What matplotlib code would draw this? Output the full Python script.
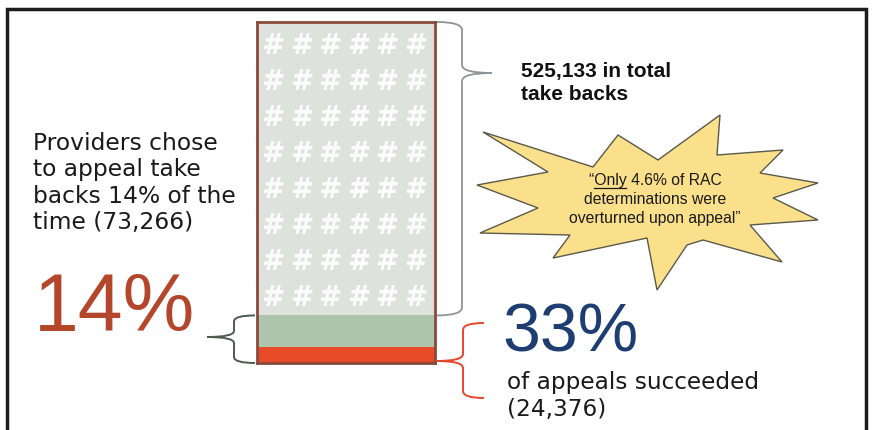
import numpy as np
import matplotlib
matplotlib.use("Agg")
import matplotlib.pyplot as plt
from matplotlib.path import Path
from matplotlib.patches import PathPatch, Polygon

# data
total_takebacks = 525133
appealed = 73266
succeeded = 24376
segment_names = ["not appealed", "appealed, failed", "appealed, succeeded"]
segment_values = [total_takebacks - appealed, appealed - succeeded, succeeded]
segment_colors = ["#dde2dc", "#adc4ad", "#e84b28"]

W, H = 872, 430
fig = plt.figure(figsize=(W / 100, H / 100), dpi=100)
ax = fig.add_axes([0, 0, 1, 1])
ax.set_xlim(0, W)
ax.set_ylim(H, 0)
ax.axis("off")

# outer frame (no bottom line)
ax.plot([7, 7, 866, 866], [H, 9, 9, H], color="#1c1c1c", lw=2.5, solid_joinstyle="miter")

# bar box in pixels
bx0, bx1, by0, by1 = 257, 435, 22, 363
bx = fig.add_axes([bx0 / W, (H - by1) / H, (bx1 - bx0) / W, (by1 - by0) / H])
bottoms = np.concatenate([[0], np.cumsum(segment_values[::-1])[:-1]])
for v, b, c in zip(segment_values[::-1], bottoms, segment_colors[::-1]):
    bx.bar(0, v, bottom=b, width=1.0, color=c, edgecolor="none")
bx.set_xlim(-0.5, 0.5)
bx.set_ylim(0, total_takebacks)
bx.set_xticks([])
bx.set_yticks([])
for s in bx.spines.values():
    s.set_color("#8a4a3c")
    s.set_linewidth(2)

def ypix(v):
    return by1 - v / total_takebacks * (by1 - by0)

# white hash marks on the grey part
for j in range(8):
    for i in range(6):
        bx.text(273 + 28.5 * i, 46 + 36 * j, "#", transform=ax.transData,
                ha="center", va="center", fontsize=20, fontweight="bold",
                color="white", family="DejaVu Sans", alpha=0.9)

def brace(xe, y0, y1, xs, xt, yt, color, lw=1.2, r=8):
    verts = [(xe, y0), (xs, y0), (xs, y0 + r), (xs, yt - r), (xs, yt), (xt, yt),
             (xs, yt), (xs, yt + r), (xs, y1 - r), (xs, y1), (xe, y1)]
    codes = [Path.MOVETO, Path.CURVE3, Path.CURVE3, Path.LINETO, Path.CURVE3, Path.CURVE3,
             Path.CURVE3, Path.CURVE3, Path.LINETO, Path.CURVE3, Path.CURVE3]
    ax.add_patch(PathPatch(Path(verts, codes), fill=False, edgecolor=color, lw=lw))

# grey brace for the whole bar
brace(437, by0, ypix(appealed), 462, 492, 73, "#8c9598", lw=1.3)
# green brace for appealed part
brace(255, ypix(appealed), by1, 234, 207, 337, "#4d5c4f", lw=1.4, r=6)
# red brace for succeeded
brace(484, 323, 398, 463, 437, 361, "#e4472c", lw=1.4, r=7)

# starburst
star = [(483, 132), (593, 167), (618, 135), (658, 160), (720, 115), (717, 155),
        (783, 150), (760, 173), (818, 183), (773, 198), (818, 220), (750, 225),
        (782, 262), (703, 240), (687, 245), (657, 290), (647, 238), (553, 258),
        (570, 235), (480, 233), (538, 208), (477, 185), (548, 172)]
ax.add_patch(Polygon(star, closed=True, facecolor="#fbe08c", edgecolor="#5a5a4a", lw=1.0))

star_fs = 11.3
star_lines = ["\u201cOnly 4.6% of RAC", "determinations were", "overturned upon appeal\u201d"]
star_y = [180, 199, 218]
for s, y in zip(star_lines, star_y):
    ax.text(655, y, s, ha="center", va="center", fontsize=star_fs,
            family="Liberation Sans", color="#1a1a1a")
# underline "Only"
r = fig.canvas.get_renderer()
t_full = ax.text(0, 0, star_lines[0], fontsize=star_fs, family="Liberation Sans")
t_q = ax.text(0, 0, "\u201c", fontsize=star_fs, family="Liberation Sans")
t_o = ax.text(0, 0, "\u201cOnly", fontsize=star_fs, family="Liberation Sans")
wf = t_full.get_window_extent(r).width
wq = t_q.get_window_extent(r).width
wo = t_o.get_window_extent(r).width
for t in (t_full, t_q, t_o):
    t.remove()
x_start = 655 - wf / 2
ax.plot([x_start + wq, x_start + wo], [star_y[0] + 7.5, star_y[0] + 7.5], color="#1a1a1a", lw=0.9)

# texts
ax.text(521, 83, "525,133 in total\ntake backs", ha="left", va="center", fontsize=15,
        fontweight="bold", family="Liberation Sans", color="#111111", linespacing=1.2)
ax.text(33, 183, "Providers chose\nto appeal take\nbacks 14% of the\ntime (73,266)",
        ha="left", va="center", fontsize=16.8, family="DejaVu Sans", color="#1a1a1a",
        linespacing=1.18)
ax.text(34, 310, "14%", ha="left", va="center", fontsize=58, family="Liberation Sans",
        color="#b4462c")
ax.text(502, 333, "33%", ha="left", va="center", fontsize=49, family="Liberation Sans",
        color="#1e3e72")
ax.text(507, 396, "of appeals succeeded\n(24,376)", ha="left", va="center", fontsize=16.7,
        family="DejaVu Sans", color="#1a1a1a", linespacing=1.18)

fig.savefig("out.png", dpi=100)
